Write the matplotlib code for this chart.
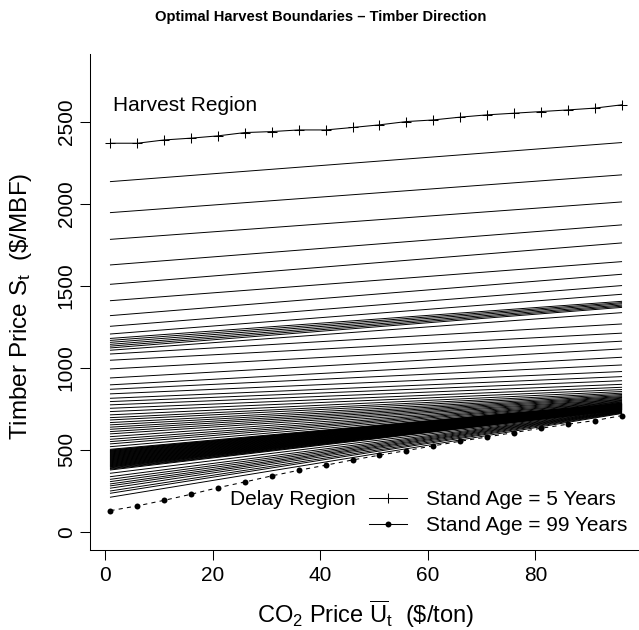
import matplotlib
matplotlib.use("Agg")
import matplotlib.pyplot as plt
from matplotlib.lines import Line2D

plt.rcParams.update({
    "font.family": ["Liberation Sans", "DejaVu Sans"],
    "mathtext.fontset": "custom",
    "mathtext.rm": "Liberation Sans",
    "mathtext.it": "Liberation Sans:italic",
    "mathtext.bf": "Liberation Sans:bold",
})

# CO2 price grid where the marked boundaries are drawn
co2_price = [1, 6, 11, 16, 21, 26, 31, 36, 41, 46, 51, 56, 61, 66, 71, 76, 81, 86, 91, 96]
edge_price = [1, 96]

# boundary for stand age 5 (plus markers) and 99 (dashed with dots)
age5_boundary = [2368, 2368, 2388, 2399, 2413, 2433, 2439, 2449, 2449, 2464,
                 2480, 2500, 2510, 2527, 2541, 2551, 2561, 2571, 2582, 2602]
age99_boundary = [128, 157, 191, 228, 268, 303, 340, 374, 405, 437,
                  466, 494, 523, 551, 577, 604, 630, 655, 677, 707]

# boundaries for stand ages 6..98, value at CO2 = 1 and at CO2 = 96
start_values = [
    2134, 1945, 1782, 1626, 1508, 1408, 1317, 1252, 1205,
    1178, 1166, 1154, 1142, 1131, 1120,
    1106, 1083, 1045, 992, 937, 895, 868, 840, 813, 793, 773, 752, 732, 712,
    695, 681, 665, 651, 637, 624, 610, 596, 579, 563, 549, 535, 518, 502,
    498, 495, 492, 489, 486, 483, 480, 477, 474, 471, 468, 465, 462, 459, 456,
    453, 450, 447, 444, 441, 438, 435, 432, 429, 426, 423, 420, 417, 414, 411,
    408, 405, 402, 399, 396, 393, 389, 385, 381, 376,
    356, 335, 319, 305, 291, 279, 265, 248, 234, 210,
]
end_values = [
    2372, 2175, 2010, 1870, 1760, 1646, 1569, 1500, 1447,
    1404, 1396, 1389, 1381, 1374, 1367,
    1335, 1266, 1210, 1161, 1114, 1063, 1016, 976, 945, 920, 898, 880, 866, 854,
    844, 836, 829, 823, 818, 813, 808, 804, 800, 796, 792, 789, 786, 783,
    781, 780, 779, 778, 777, 776, 775, 774, 773, 772, 771, 770, 769, 768, 767,
    766, 765, 764, 763, 762, 761, 760, 759, 758, 757, 756, 755, 754, 753, 752,
    751, 750, 749, 748, 747, 746, 745, 744, 743, 742,
    740, 738, 736, 734, 732, 730, 728, 726, 723, 720,
]

x_ticks = [0, 20, 40, 60, 80]
y_ticks = [0, 500, 1000, 1500, 2000, 2500]
legend_labels = ["Stand Age = 5 Years", "Stand Age = 99 Years"]

fig = plt.figure(figsize=(6.39, 6.30), dpi=100)
ax = fig.add_axes([90 / 639, 80 / 630, 552 / 639, 496 / 630])

for s, e in zip(start_values, end_values):
    ax.plot(edge_price, [s, e], color="black", lw=0.7)
ax.plot(co2_price, age5_boundary, color="black", lw=0.75,
        marker="+", ms=6.5, mew=0.75)
ax.plot(co2_price, age99_boundary, color="black", lw=0.75, ls=(0, (4, 4)),
        marker="o", ms=4.3, mew=0)

ax.set_xlim(-2.8, 99.8)
ax.set_ylim(-112, 2912)
ax.set_xticks(x_ticks)
ax.set_yticks(y_ticks)
ax.tick_params(direction="out", length=7.2, width=0.75, labelsize=15, colors="black")
ax.tick_params(axis="x", pad=4)
ax.tick_params(axis="y", pad=3)
for lab in ax.get_yticklabels():
    lab.set_rotation(90)
    lab.set_va("center")
for side in ["top", "right"]:
    ax.spines[side].set_visible(False)
for side in ["left", "bottom"]:
    ax.spines[side].set_linewidth(0.75)

ax.text(1.4, 2600, "Harvest Region", fontsize=15, ha="left", va="center")
ax.text(46.5, 198, "Delay Region", fontsize=15, ha="right", va="center")

handles = [
    Line2D([], [], color="black", lw=0.75, marker="+", ms=6.5, mew=0.75),
    Line2D([], [], color="black", lw=0.75, marker="o", ms=4.3, mew=0),
]
ax.legend(handles, legend_labels, loc="upper left",
          bbox_to_anchor=(369 / 639, 1 - 490 / 630), bbox_transform=fig.transFigure,
          frameon=False, fontsize=15, handlelength=1.81, handletextpad=0.92,
          labelspacing=0.33, borderpad=0, borderaxespad=0, numpoints=1)

fig.text(321 / 639, 1 - 17 / 630, "Optimal Harvest Boundaries \u2013 Timber Direction",
         ha="center", va="center", fontsize=10.6, fontweight="bold")
fig.text(366 / 639, 1 - 614 / 630,
         r"$\mathrm{CO_2}$ Price $\overline{\mathrm{U}}_\mathrm{t}$  (\$/ton)",
         ha="center", va="center", fontsize=17)
fig.text(21 / 639, 1 - 306 / 630, r"Timber Price $\mathrm{S_t}$  (\$/MBF)",
         ha="center", va="center", rotation=90, fontsize=17.5)

fig.savefig("out.png", dpi=100)
